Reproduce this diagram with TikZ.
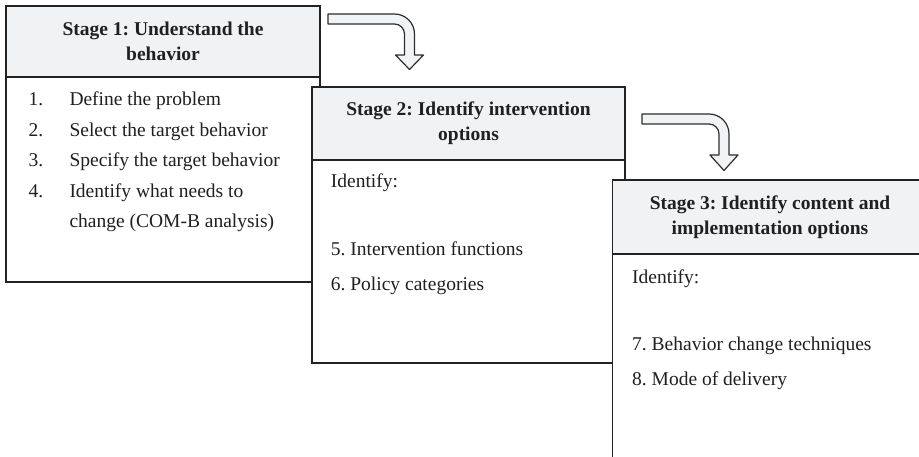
\documentclass[tikz,border=0pt]{standalone}
\usepackage{fontspec}
\setmainfont{Liberation Serif}
\frenchspacing
\definecolor{hdrgray}{RGB}{241,242,244}
\definecolor{edge}{RGB}{34,34,34}
\definecolor{ink}{RGB}{32,32,32}
\definecolor{arrowfill}{RGB}{242,243,245}
\definecolor{arrowedge}{RGB}{45,45,45}

% Bent block arrow: #1 start x, #2 centre y of the horizontal part,
% #3 centre x of the vertical part, #4 y of the head base, #5 y of the tip
\newcommand\stagearrow[5]{%
  \draw[arrowbody] ({#1},{#2-5}) -- ({#3-15},{#2-5})
    arc[start angle=-90,end angle=0,radius=20]
    -- ({#3+5},{#4}) -- ({#3+14},{#4}) -- ({#3},{#5}) -- ({#3-14},{#4})
    -- ({#3-5},{#4}) -- ({#3-5},{#2+15})
    arc[start angle=0,end angle=-90,radius=10]
    -- ({#1},{#2+5}) -- cycle;}

\begin{document}
\begin{tikzpicture}[x=1pt,y=-1pt,
  every node/.style={text=ink},
  stagebox/.style={draw=edge,line width=1.9pt,fill=white,rectangle,
    anchor=north west,inner sep=0pt,outer sep=0pt},
  stagehead/.style={draw=edge,line width=1.9pt,fill=hdrgray,rectangle,
    anchor=north west,inner sep=0pt,outer sep=0pt},
  headtext/.style={align=center,inner sep=0pt,
    font=\fontsize{19.5}{25}\selectfont\bfseries},
  itemtext/.style={anchor=base west,inner sep=0pt,
    font=\fontsize{19.5}{24}\selectfont},
  arrowbody/.style={draw=arrowedge,fill=arrowfill,line width=1.2pt,line join=round}]
\useasboundingbox (0,0) rectangle (919,457);
\clip (0,0) rectangle (919,457);

% Stage 1
\node[stagebox,minimum width=314pt,minimum height=276pt] (box1) at (6,6) {};
\node[stagehead,minimum width=314pt,minimum height=71pt] (head1) at (6,6) {};
\node[headtext] (title1) at (head1.center) {Stage 1: Understand the\\behavior};
\node[itemtext] (n1) at (28.3,105.7) {1.};
\node[itemtext] (t1) at (69.3,105.7) {Define the problem};
\node[itemtext] (n2) at (28.3,136.2) {2.};
\node[itemtext] (t2) at (69.3,136.2) {Select the target behavior};
\node[itemtext] (n3) at (28.3,166.7) {3.};
\node[itemtext] (t3) at (69.3,166.7) {Specify the target behavior};
\node[itemtext] (n4) at (28.3,197.2) {4.};
\node[itemtext] (t4) at (69.3,197.2) {Identify what needs to};
\node[itemtext] (t4b) at (69.3,227.7) {change (COM-B analysis)};

% Stage 2
\node[stagebox,minimum width=313pt,minimum height=276pt] (box2) at (312,87) {};
\node[stagehead,minimum width=313pt,minimum height=73pt] (head2) at (312,87) {};
\node[headtext] (title2) at (head2.center) {Stage 2: Identify intervention\\options};
\node[itemtext] (id2) at (330.7,188) {Identify:};
\node[itemtext] (t5) at (330.7,256) {5. Intervention functions};
\node[itemtext] (t6) at (330.7,290.5) {6. Policy categories};

% Stage 3
\node[stagebox,minimum width=315pt,minimum height=300pt] (box3) at (612.5,180) {};
\node[stagehead,minimum width=315pt,minimum height=74pt] (head3) at (612.5,180) {};
\node[headtext] (title3) at (head3.center) {Stage 3: Identify content and\\implementation options};
\node[itemtext] (id3) at (632,284) {Identify:};
\node[itemtext] (t7) at (632,350.7) {7. Behavior change techniques};
\node[itemtext] (t8) at (632,385) {8. Mode of delivery};

% Bent arrows leading from one stage to the next
\stagearrow{328}{19}{409.5}{55}{69.5}
\stagearrow{642}{119}{724}{155}{170.5}
\end{tikzpicture}
\end{document}
